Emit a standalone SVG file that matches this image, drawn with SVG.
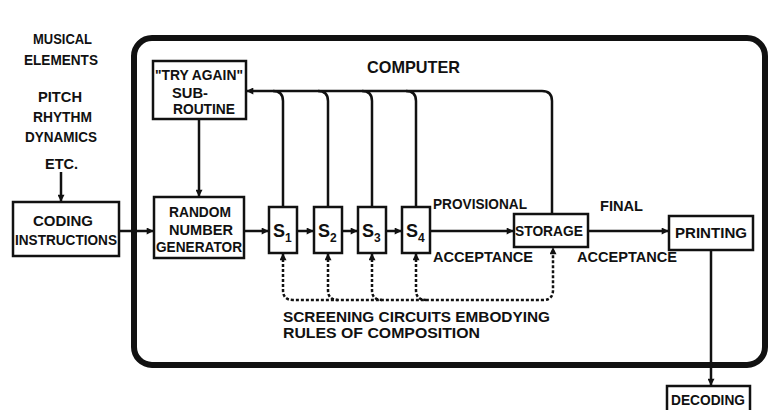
<svg xmlns="http://www.w3.org/2000/svg" width="768" height="410" viewBox="0 0 768 410">
<style>
text{font-family:"Liberation Sans",Arial,sans-serif;font-weight:bold;font-size:15px;fill:#111}
.box{fill:#fff;stroke:#111;stroke-width:2.5}
.c{text-anchor:middle}
.ln{fill:none;stroke:#111;stroke-width:2.5}
.dash{fill:none;stroke:#111;stroke-width:2.5;stroke-dasharray:3 2}
</style>
<defs>
<marker id="ah" viewBox="0 0 10 10" refX="9" refY="5" markerWidth="8" markerHeight="7" markerUnits="userSpaceOnUse" orient="auto-start-reverse">
<path d="M0,0 L10,5 L0,10 Z" fill="#111"/>
</marker>
</defs>
<rect x="134" y="38" width="631" height="327" rx="18" fill="none" stroke="#111" stroke-width="6"/>
<text x="367" y="73" style="font-size:17px" textLength="93" lengthAdjust="spacingAndGlyphs">COMPUTER</text>
<g id="inputs">
<text x="33" y="44" textLength="59" lengthAdjust="spacingAndGlyphs">MUSICAL</text>
<text x="24" y="65" textLength="74" lengthAdjust="spacingAndGlyphs">ELEMENTS</text>
<text x="38" y="102" textLength="44" lengthAdjust="spacingAndGlyphs">PITCH</text>
<text x="33" y="122" textLength="59" lengthAdjust="spacingAndGlyphs">RHYTHM</text>
<text x="25" y="142" textLength="72" lengthAdjust="spacingAndGlyphs">DYNAMICS</text>
<text x="45" y="169" textLength="33" lengthAdjust="spacingAndGlyphs">ETC.</text>
</g>
<g id="connectors">
<path class="ln" d="M61,172 V201" marker-end="url(#ah)"/>
<path class="ln" d="M119,231 H153" marker-end="url(#ah)"/>
<path class="ln" d="M199,119 V196" marker-end="url(#ah)"/>
<path class="ln" d="M244,231 H268" marker-end="url(#ah)"/>
<path class="ln" d="M297,231 H313" marker-end="url(#ah)"/>
<path class="ln" d="M342,231 H357" marker-end="url(#ah)"/>
<path class="ln" d="M386,231 H401" marker-end="url(#ah)"/>
<path class="ln" d="M430,231 H513" marker-end="url(#ah)"/>
<path class="ln" d="M588,231 H668" marker-end="url(#ah)"/>
<path class="ln" d="M711,250 V385" marker-end="url(#ah)"/>
<path class="ln" d="M552,214 V101 Q552,91 542,91 H247" marker-end="url(#ah)"/>
<path class="ln" d="M283,207 V101 Q283,91 273,91"/>
<path class="ln" d="M328,207 V101 Q328,91 318,91"/>
<path class="ln" d="M372,207 V101 Q372,91 362,91"/>
<path class="ln" d="M416,207 V101 Q416,91 406,91"/>
<path class="dash" d="M283,254 V290 Q283,300 293,300 H543 Q553,300 553,290 V248" marker-start="url(#ah)" marker-end="url(#ah)"/>
<path class="dash" d="M328,254 V290 Q328,300 338,300" marker-start="url(#ah)"/>
<path class="dash" d="M372,254 V290 Q372,300 382,300" marker-start="url(#ah)"/>
<path class="dash" d="M416,254 V290 Q416,300 426,300" marker-start="url(#ah)"/>
</g>
<g id="coding">
<rect class="box" x="13" y="202" width="106" height="54"/>
<text x="33" y="226" textLength="60" lengthAdjust="spacingAndGlyphs">CODING</text>
<text x="15" y="245" textLength="102" lengthAdjust="spacingAndGlyphs">INSTRUCTIONS</text>
</g>
<g id="tryagain">
<rect class="box" x="153" y="61" width="93" height="58"/>
<text x="199" y="80" class="c" textLength="88" lengthAdjust="spacingAndGlyphs">"TRY AGAIN"</text>
<text x="190" y="98" class="c" textLength="36" lengthAdjust="spacingAndGlyphs">SUB-</text>
<text x="204" y="114" class="c" textLength="62" lengthAdjust="spacingAndGlyphs">ROUTINE</text>
</g>
<g id="rng">
<rect class="box" x="154" y="197" width="90" height="61"/>
<text x="200" y="217" class="c" textLength="62" lengthAdjust="spacingAndGlyphs">RANDOM</text>
<text x="201" y="235" class="c" textLength="64" lengthAdjust="spacingAndGlyphs">NUMBER</text>
<text x="199" y="252" class="c" textLength="86" lengthAdjust="spacingAndGlyphs">GENERATOR</text>
</g>
<g id="s1"><rect class="box" x="269" y="207" width="28" height="46"/><text x="273" y="237" style="font-size:18px">S<tspan style="font-size:12px" dy="5">1</tspan></text></g>
<g id="s2"><rect class="box" x="314" y="207" width="28" height="46"/><text x="318" y="237" style="font-size:18px">S<tspan style="font-size:12px" dy="5">2</tspan></text></g>
<g id="s3"><rect class="box" x="358" y="207" width="28" height="46"/><text x="362" y="237" style="font-size:18px">S<tspan style="font-size:12px" dy="5">3</tspan></text></g>
<g id="s4"><rect class="box" x="402" y="207" width="28" height="46"/><text x="406" y="237" style="font-size:18px">S<tspan style="font-size:12px" dy="5">4</tspan></text></g>
<g id="storage">
<rect class="box" x="514" y="214" width="74" height="33"/>
<text x="549" y="236" class="c" textLength="68" lengthAdjust="spacingAndGlyphs">STORAGE</text>
</g>
<g id="printing">
<rect class="box" x="669" y="216" width="84" height="34"/>
<text x="711" y="238" class="c" textLength="72" lengthAdjust="spacingAndGlyphs">PRINTING</text>
</g>
<g id="decoding">
<rect class="box" x="667" y="386" width="83" height="30"/>
<text x="708" y="405" class="c" textLength="74" lengthAdjust="spacingAndGlyphs">DECODING</text>
</g>
<g id="labels">
<text x="433" y="209" textLength="94" lengthAdjust="spacingAndGlyphs">PROVISIONAL</text>
<text x="433" y="262" textLength="100" lengthAdjust="spacingAndGlyphs">ACCEPTANCE</text>
<text x="600" y="211" textLength="43" lengthAdjust="spacingAndGlyphs">FINAL</text>
<text x="577" y="262" textLength="100" lengthAdjust="spacingAndGlyphs">ACCEPTANCE</text>
<text x="283" y="322" textLength="267" lengthAdjust="spacingAndGlyphs">SCREENING  CIRCUITS  EMBODYING</text>
<text x="283" y="338" textLength="197" lengthAdjust="spacingAndGlyphs">RULES  OF  COMPOSITION</text>
</g>
</svg>
